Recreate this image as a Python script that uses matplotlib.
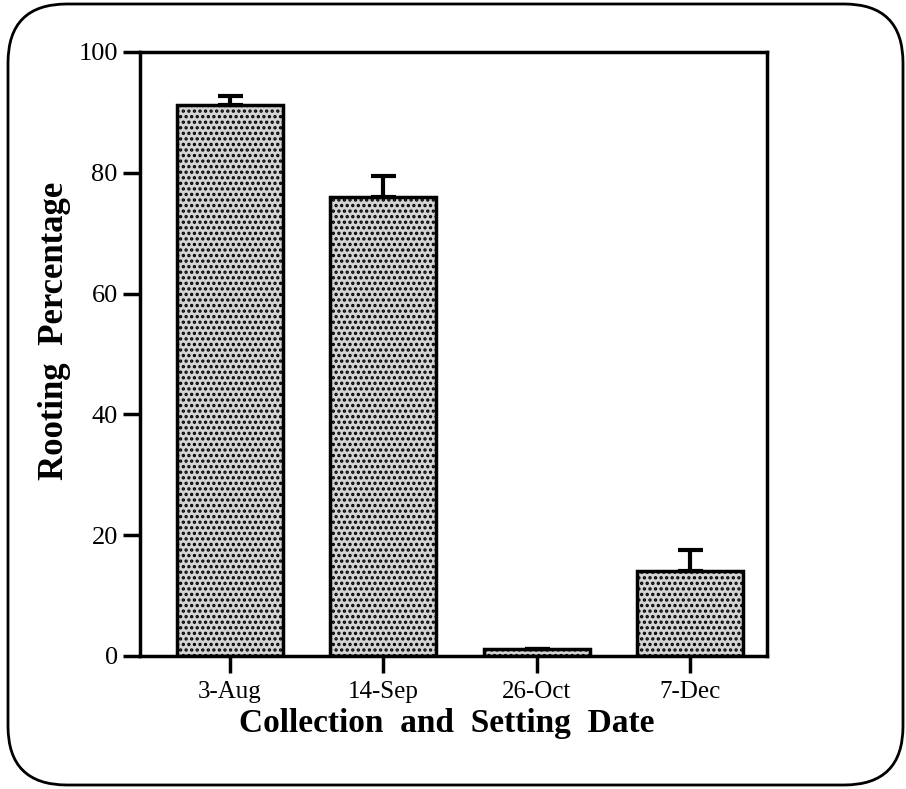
import matplotlib
matplotlib.use("Agg")
import matplotlib.pyplot as plt
from matplotlib.patches import FancyBboxPatch

# Rooting percentage of cuttings by collection/setting date
dates = ["3-Aug", "14-Sep", "26-Oct", "7-Dec"]
rooting = [91.2, 76.0, 1.2, 14.0]
err_upper = [1.5, 3.5, 0.0, 3.6]
y_ticks = [0, 20, 40, 60, 80, 100]

plt.rcParams["font.family"] = ["Liberation Serif", "DejaVu Serif"]
plt.rcParams["hatch.linewidth"] = 1.6

W, H = 906, 789
fig = plt.figure(figsize=(W / 100, H / 100), dpi=100)
fig.patch.set_facecolor("white")

# rounded frame around the whole figure
frame = FancyBboxPatch((8 / W, 4 / H), 895 / W, 781 / H,
                       boxstyle="round,pad=0,rounding_size=0.065",
                       transform=fig.transFigure, fill=False,
                       edgecolor="black", linewidth=2.0, mutation_aspect=W / H)
fig.patches.append(frame)

ax = fig.add_axes([140 / W, 1 - 656 / H, 627 / W, 604 / H])
x = list(range(len(dates)))
ax.bar(x, rooting, width=0.69, color="#d4d4d4", edgecolor="black",
       linewidth=2.5, hatch="...", zorder=2)
ax.errorbar(x, rooting, yerr=[[0] * len(err_upper), err_upper], fmt="none",
            ecolor="black", elinewidth=3, capsize=9, capthick=3, zorder=3)

ax.set_xlim(-0.586, 3.5)
ax.set_ylim(0, 100)
ax.set_yticks(y_ticks)
ax.set_xticks(x)
ax.set_xticklabels(dates)

for s in ax.spines.values():
    s.set_linewidth(2.5)
ax.tick_params(axis="both", direction="out", length=12, width=2.5)
ax.tick_params(axis="y", pad=4, labelsize=19)
ax.tick_params(axis="x", pad=6, labelsize=18)

fig.text(63 / W, 1 - 331 / H, "Rooting  Percentage", fontsize=25,
         fontweight="bold", rotation=90, rotation_mode="anchor",
         ha="center", va="baseline")
fig.text(447 / W, 1 - 732 / H, "Collection  and  Setting  Date", fontsize=24,
         fontweight="bold", ha="center", va="baseline")

fig.savefig("out.png", dpi=100, facecolor="white")
